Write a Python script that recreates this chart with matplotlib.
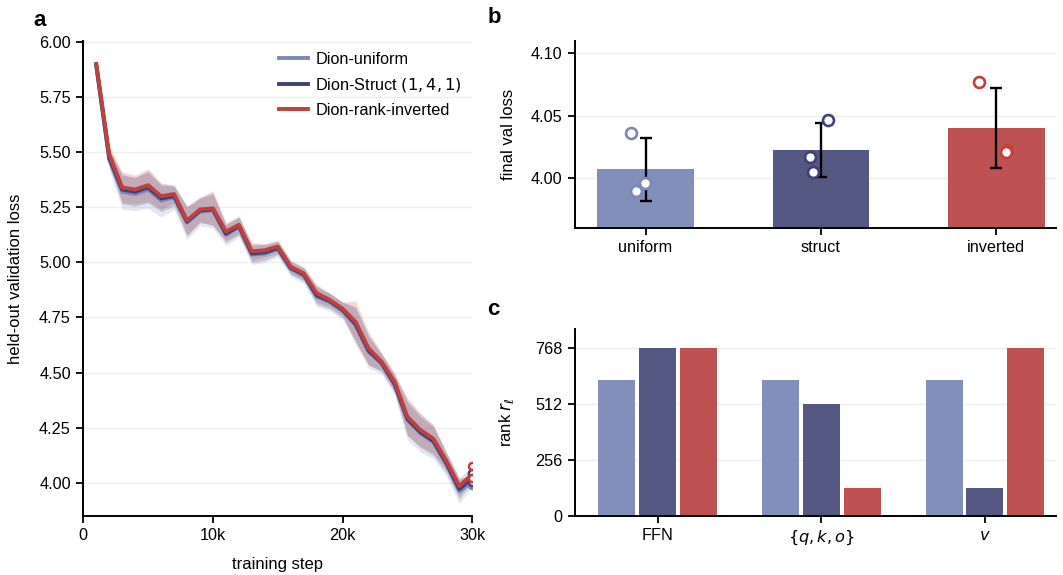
import matplotlib
matplotlib.use("Agg")
import matplotlib.pyplot as plt
import numpy as np

plt.rcParams['font.family'] = ['Liberation Sans', 'DejaVu Sans']
plt.rcParams['mathtext.fontset'] = 'dejavusans'

# ---------------- data ----------------
methods = ["Dion-uniform", "Dion-Struct $(1, 4, 1)$", "Dion-rank-inverted"]
short_names = ["uniform", "struct", "inverted"]

steps = [1000, 2000, 3000, 4000, 5000, 6000, 7000, 8000, 9000, 10000,
         11000, 12000, 13000, 14000, 15000, 16000, 17000, 18000, 19000, 20000,
         21000, 22000, 23000, 24000, 25000, 26000, 27000, 28000, 29000, 30000]

loss_uniform = [5.890, 5.465, 5.320, 5.310, 5.330, 5.280, 5.295, 5.180, 5.230, 5.235,
                5.125, 5.160, 5.035, 5.040, 5.060, 4.970, 4.940, 4.845, 4.820, 4.780,
                4.715, 4.595, 4.540, 4.445, 4.285, 4.225, 4.185, 4.085, 3.962, 4.007]
loss_struct = [5.895, 5.475, 5.330, 5.320, 5.340, 5.290, 5.300, 5.185, 5.235, 5.240,
               5.130, 5.165, 5.040, 5.045, 5.065, 4.975, 4.945, 4.850, 4.825, 4.785,
               4.720, 4.600, 4.545, 4.450, 4.290, 4.230, 4.190, 4.090, 3.972, 4.022]
loss_inverted = [5.900, 5.490, 5.340, 5.330, 5.350, 5.300, 5.310, 5.190, 5.240, 5.245,
                 5.140, 5.170, 5.050, 5.055, 5.072, 4.980, 4.950, 4.860, 4.830, 4.790,
                 4.730, 4.610, 4.550, 4.460, 4.300, 4.240, 4.200, 4.100, 3.985, 4.040]

std_uniform = [0.015, 0.045, 0.080, 0.075, 0.085, 0.075, 0.055, 0.075, 0.065, 0.080,
               0.050, 0.045, 0.045, 0.040, 0.035, 0.035, 0.035, 0.045, 0.040, 0.040,
               0.085, 0.075, 0.045, 0.045, 0.090, 0.085, 0.075, 0.055, 0.055, 0.025]
std_struct = [0.012, 0.040, 0.065, 0.065, 0.070, 0.060, 0.045, 0.065, 0.055, 0.070,
              0.040, 0.040, 0.040, 0.035, 0.030, 0.030, 0.030, 0.040, 0.035, 0.035,
              0.075, 0.065, 0.040, 0.040, 0.075, 0.070, 0.065, 0.045, 0.045, 0.021]
std_inverted = [0.012, 0.040, 0.070, 0.065, 0.075, 0.060, 0.040, 0.065, 0.055, 0.080,
                0.040, 0.040, 0.040, 0.030, 0.030, 0.030, 0.030, 0.040, 0.030, 0.030,
                0.095, 0.075, 0.040, 0.040, 0.085, 0.075, 0.065, 0.040, 0.040, 0.032]

# final val loss per seed
seeds_uniform = [4.0360, 3.9895, 3.9955]
seeds_struct = [4.0461, 4.0165, 4.0044]
seeds_inverted = [4.0768, 4.0224, 4.0210]
seed_jitter = [[-0.084, -0.056, -0.005], [0.042, -0.064, -0.045], [-0.100, 0.060, 0.055]]

# panel c: ranks
layer_groups = ["FFN", "$\\{q, k, o\\}$", "$v$"]
rank_uniform = [620, 620, 620]
rank_struct = [768, 512, 128]
rank_inverted = [768, 128, 768]
rank_ticks = [0, 256, 512, 768]

line_colors = ["#7b88b8", "#3e4276", "#c0403f"]
bar_colors = ["#828fbb", "#565884", "#be5252"]

# ---------------- figure ----------------
W, H = 1063, 575
fig = plt.figure(figsize=(W / 100, H / 100), dpi=100)


def rect(l, t, r, b):
    return [l / W, 1 - b / H, (r - l) / W, (b - t) / H]


axa = fig.add_axes(rect(83.3, 40.7, 472.3, 516))
axb = fig.add_axes(rect(575, 40.7, 1056, 227.7))
axc = fig.add_axes(rect(575, 329.3, 1056, 515.7))

TICK_FS = 11.7
LABEL_FS = 12

for ax in (axa, axb, axc):
    for s in ("top", "right"):
        ax.spines[s].set_visible(False)
    for s in ("left", "bottom"):
        ax.spines[s].set_linewidth(1.4)
    ax.tick_params(direction="out", length=5, width=1.3, labelsize=TICK_FS, pad=4)
    ax.yaxis.grid(True, color="#efefef", linewidth=1.0)
    ax.set_axisbelow(True)

# ---- panel a ----
means = [loss_uniform, loss_struct, loss_inverted]
stds = [std_uniform, std_struct, std_inverted]
x = np.array(steps)
for m, s, c, lab in zip(means, stds, line_colors, methods):
    m = np.array(m)
    s = np.array(s)
    axa.fill_between(x, m - s, m + s, color=c, alpha=0.2, linewidth=0)
for m, c, lab in zip(means, line_colors, methods):
    axa.plot(x, m, color=c, lw=2.8, label=lab)

for seeds, c in zip([seeds_uniform, seeds_struct, seeds_inverted], line_colors):
    axa.scatter([steps[-1]] * len(seeds), seeds, s=26, facecolor="white",
                edgecolor=c, linewidth=1.8, zorder=5, clip_on=True)

axa.set_xlim(0, 30000)
axa.set_ylim(3.85, 6.005)
yt = [4.00, 4.25, 4.50, 4.75, 5.00, 5.25, 5.50, 5.75, 6.00]
axa.set_yticks(yt)
axa.set_yticklabels([f"{v:.2f}" for v in yt])
axa.set_xticks([0, 10000, 20000, 30000])
axa.set_xticklabels(["0", "10k", "20k", "30k"])
axa.set_xlabel("training step", fontsize=LABEL_FS)
axa.set_ylabel("held-out validation loss", fontsize=LABEL_FS)
axa.yaxis.set_label_coords((23 - 83.3) / 389, 0.5)
axa.xaxis.set_label_coords(0.5, (516 - 557) / 475.3)
axa.legend(loc="upper right", frameon=False, fontsize=11.7, handlelength=1.75,
           handletextpad=0.45, labelspacing=0.55, borderaxespad=0.0,
           bbox_to_anchor=(0.99, 0.99))

# ---- panel b ----
seed_sets = [seeds_uniform, seeds_struct, seeds_inverted]
pos = np.arange(len(short_names))
bar_means = [np.mean(sv) for sv in seed_sets]
bar_stds = [np.std(sv, ddof=1) for sv in seed_sets]
axb.bar(pos, bar_means, width=0.55, color=bar_colors, zorder=2)
axb.errorbar(pos, bar_means, yerr=bar_stds, fmt="none", ecolor="black",
             elinewidth=1.7, capsize=4.2, capthick=1.7, zorder=3)
for i, sv in enumerate(seed_sets):
    axb.scatter(pos[i] + np.array(seed_jitter[i]), sv, s=62, facecolor="white",
                edgecolor=line_colors[i], linewidth=1.9, zorder=4)
axb.set_xticks(pos)
axb.set_xticklabels(short_names)
axb.set_xlim(-0.402, 2.34)
axb.set_ylim(3.96, 4.11)
axb.set_yticks([4.00, 4.05, 4.10])
axb.set_yticklabels(["4.00", "4.05", "4.10"])
axb.set_ylabel("final val loss", fontsize=LABEL_FS)
axb.yaxis.set_label_coords((516 - 575) / 481, 0.5)

# ---- panel c ----
gpos = np.arange(len(layer_groups))
ranks = [rank_uniform, rank_struct, rank_inverted]
offsets = [-0.25, 0.0, 0.25]
for r, off, c in zip(ranks, offsets, bar_colors):
    axc.bar(gpos + off, r, width=0.226, color=c, zorder=2)
axc.set_xticks(gpos)
axc.set_xticklabels(layer_groups)
axc.set_xlim(-0.504, 2.434)
axc.set_ylim(0, 852)
axc.set_yticks(rank_ticks)
axc.set_yticklabels([str(v) for v in rank_ticks])
axc.set_ylabel("rank $r_\\ell$", fontsize=LABEL_FS)
axc.yaxis.set_label_coords((516 - 575) / 481, 0.5)

# panel letters
fig.text(33 / W, 1 - 26.5 / H, "a", fontsize=16, fontweight="bold", va="baseline")
fig.text(488 / W, 1 - 23 / H, "b", fontsize=16, fontweight="bold", va="baseline")
fig.text(487 / W, 1 - 315 / H, "c", fontsize=16, fontweight="bold", va="baseline")

fig.savefig("out.png", dpi=100)
